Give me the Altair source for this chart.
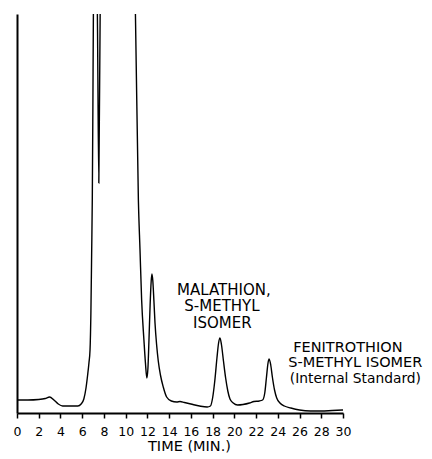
import altair as alt
import pandas as pd

# Chromatogram trace (time in minutes, detector response in arbitrary units)
time_min = [0, 1, 2, 2.6, 3.0, 3.4, 3.8, 4.2, 5.0, 5.6, 5.9, 6.15, 6.35, 6.5, 6.62, 6.72,
            6.8, 6.87, 6.93, 6.98, 7.03, 7.1, 7.38, 7.53, 7.66, 8.5, 10.0, 10.8, 10.9,
            11.17, 11.32, 11.47, 11.68, 11.82, 11.95, 12.05, 12.15, 12.25, 12.35, 12.42,
            12.5, 12.6, 12.7, 12.85, 13.0, 13.2, 13.46, 13.77, 14.2, 14.7, 15.0, 15.4,
            16.0, 16.8, 17.5, 17.8, 18.0, 18.2, 18.4, 18.55, 18.68, 18.82, 19.0, 19.2,
            19.4, 19.6, 19.9, 20.3, 20.8, 21.4, 21.8, 22.3, 22.6, 22.8, 22.95, 23.1, 23.2,
            23.35, 23.5, 23.7, 23.9, 24.2, 24.6, 25.2, 26.0, 27.0, 28.0, 29.0, 30.0]
response = [13, 13, 13.5, 14.5, 16, 13, 9, 7, 7, 7, 9, 14, 25, 38, 50, 63,
            100, 160, 215, 300, 400, 450, 410, 230, 410, 600, 600, 450, 398,
            213, 163, 113, 73, 50, 35, 45, 75, 108, 132, 139,
            132, 112, 90, 68, 52, 38, 26, 16, 12, 11, 11.5, 10.5,
            9, 7, 6, 7, 15, 32, 55, 70, 75, 68, 52, 35,
            22, 14, 10, 8, 8.5, 10, 11.5, 12, 13, 20, 35, 50, 54,
            48, 36, 23, 15, 10, 7, 5, 3, 2, 2, 2.5, 3]
assert len(time_min) == len(response)

x_ticks = list(range(0, 31, 2))

# Peak annotations (position in data units)
ann_center_text = ["MALATHION,", "S-METHYL", "ISOMER"]
ann_center_t = [19.04, 18.86, 18.9]
ann_center_v = [118.5, 102, 85.3]

ann_left_text = ["FENITROTHION", "S-METHYL ISOMER"]
ann_left_t = [25.42, 24.96]
ann_left_v = [61.3, 46.3]

ann_small_text = ["(Internal Standard)"]
ann_small_t = [25.11]
ann_small_v = [29.7]

FONT = "DejaVu Sans"

trace = pd.DataFrame({"t": time_min, "v": response})
ann_c = pd.DataFrame({"label": ann_center_text, "t": ann_center_t, "v": ann_center_v})
ann_l = pd.DataFrame({"label": ann_left_text, "t": ann_left_t, "v": ann_left_v})
ann_s = pd.DataFrame({"label": ann_small_text, "t": ann_small_t, "v": ann_small_v})

xscale = alt.Scale(domain=[0, 30], nice=False, zero=False)
yscale = alt.Scale(domain=[0, 399], nice=False, zero=False)

x_axis = alt.Axis(values=x_ticks, title="TIME (MIN.)", grid=False,
                  domainColor="black", domainWidth=2,
                  tickColor="black", tickSize=5, tickWidth=1.5,
                  labelFont=FONT, labelFontSize=12.5, labelColor="black",
                  labelPadding=7, labelFlush=False, labelOverlap=False,
                  labelSeparation=0,
                  titleFont=FONT, titleFontSize=14.5, titleFontWeight="normal",
                  titleColor="black", titleX=172, titleY=37,
                  titleAlign="center", titleBaseline="alphabetic")
y_axis = alt.Axis(title=None, labels=False, ticks=False, grid=False,
                  domainColor="black", domainWidth=2)

line = alt.Chart(trace).mark_line(
    color="black", strokeWidth=1.4, clip=True, interpolate="monotone"
).encode(
    x=alt.X("t:Q", scale=xscale, axis=x_axis),
    y=alt.Y("v:Q", scale=yscale, axis=y_axis),
)

text_c = alt.Chart(ann_c).mark_text(
    font=FONT, fontSize=15, color="black", align="center", baseline="alphabetic"
).encode(x=alt.X("t:Q", scale=xscale, axis=x_axis),
         y=alt.Y("v:Q", scale=yscale, axis=y_axis), text="label:N")

text_l = alt.Chart(ann_l).mark_text(
    font=FONT, fontSize=14.5, color="black", align="left", baseline="alphabetic"
).encode(x=alt.X("t:Q", scale=xscale, axis=x_axis),
         y=alt.Y("v:Q", scale=yscale, axis=y_axis), text="label:N")

text_s = alt.Chart(ann_s).mark_text(
    font=FONT, fontSize=13.8, color="black", align="left", baseline="alphabetic"
).encode(x=alt.X("t:Q", scale=xscale, axis=x_axis),
         y=alt.Y("v:Q", scale=yscale, axis=y_axis), text="label:N")

chart = alt.layer(line, text_c, text_l, text_s).properties(
    width=326, height=399,
    autosize=alt.AutoSizeParams(type="none"),
    padding={"left": 9, "top": 6, "right": 81, "bottom": 40},
).configure(background="white").configure_view(stroke=None).configure_axis(
    labelOverlap=False
)

chart.save("out.html", embed_options={"renderer": "svg", "actions": False})
